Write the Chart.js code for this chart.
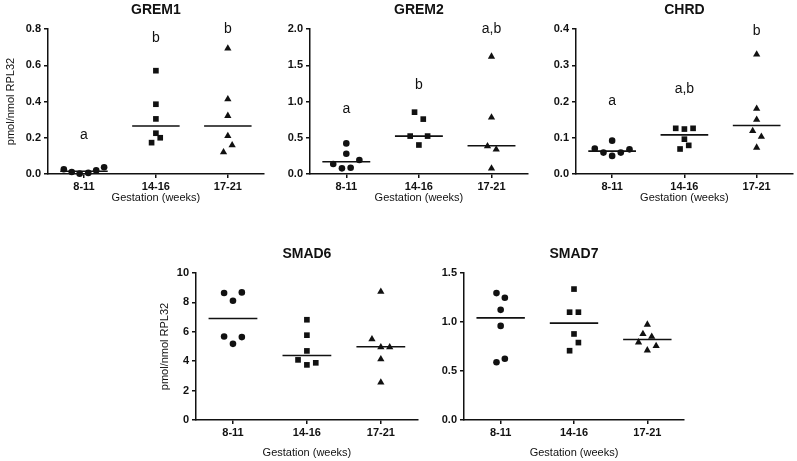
<!DOCTYPE html>
<html>
<head>
<meta charset="utf-8">
<script src="https://cdn.jsdelivr.net/npm/chart.js@4"></script>
<style>
  body { margin: 0; background: #fff; }
  #wrap { position: relative; width: 797px; height: 461px; overflow: hidden; }
  canvas { position: absolute; }
</style>
</head>
<body>
<div id="wrap">
  <canvas id="grem1" width="268" height="206" style="left:0px;top:0px"></canvas>
  <canvas id="grem2" width="264" height="206" style="left:268px;top:0px"></canvas>
  <canvas id="chrd" width="265" height="206" style="left:532px;top:0px"></canvas>
  <canvas id="smad6" width="282" height="225" style="left:140px;top:236px"></canvas>
  <canvas id="smad7" width="270" height="225" style="left:422px;top:236px"></canvas>
</div>
<script>
// groups on the x axis
var categories = ['8-11', '14-16', '17-21'];

// values per group (8-11, 14-16, 17-21) and the horizontal scatter of each point
var grem1Values = [[0.026, 0.011, 0.002, 0.006, 0.020, 0.037], [0.173, 0.200, 0.225, 0.304, 0.385, 0.570], [0.120, 0.159, 0.210, 0.321, 0.413, 0.693]];
var grem1Jitter = [[-0.28, -0.17, -0.06, 0.06, 0.17, 0.28], [-0.06, 0.06, 0, 0, 0, 0], [-0.06, 0.06, 0, 0, 0, 0]];
var grem1Medians = [0.015, 0.265, 0.265];
var grem1Letters = ['a', 'b', 'b'];
var grem1LetterY = [0.215, 0.75, 0.797];

var grem2Values = [[0.138, 0.078, 0.087, 0.193, 0.280, 0.422], [0.523, 0.523, 0.400, 0.853, 0.757], [1.620, 0.780, 0.385, 0.340, 0.078]];
var grem2Jitter = [[-0.18, -0.06, 0.06, 0.18, 0, 0], [-0.12, 0.12, 0, -0.06, 0.06], [0, 0, -0.055, 0.065, 0]];
var grem2Medians = [0.17, 0.523, 0.39];
var grem2Letters = ['a', 'b', 'a,b'];
var grem2LetterY = [0.9, 1.22, 2.0];

var chrdValues = [[0.070, 0.059, 0.050, 0.092, 0.059, 0.068], [0.126, 0.124, 0.126, 0.096, 0.079, 0.069], [0.330, 0.180, 0.150, 0.119, 0.103, 0.073]];
var chrdJitter = [[-0.24, -0.12, 0, 0, 0.12, 0.24], [-0.12, 0, 0.12, 0, 0.06, -0.06], [0, 0, 0, -0.055, 0.065, 0]];
var chrdMedians = [0.063, 0.108, 0.134];
var chrdLetters = ['a', 'a,b', 'b'];
var chrdLetterY = [0.2, 0.233, 0.394];

var smad6Values = [[8.64, 5.68, 8.68, 5.64, 8.11, 5.18], [6.82, 5.77, 4.70, 4.09, 3.75, 3.89], [8.73, 5.50, 4.95, 4.95, 4.14, 2.55]];
var smad6Jitter = [[-0.12, -0.12, 0.12, 0.12, 0, 0], [0, 0, 0, -0.12, 0, 0.12], [0, -0.12, 0, 0.12, 0, 0]];
var smad6Medians = [6.9, 4.39, 4.98];

var smad7Values = [[1.295, 1.248, 1.124, 0.960, 0.625, 0.590], [1.336, 1.100, 1.100, 0.878, 0.790, 0.707], [0.974, 0.878, 0.851, 0.793, 0.755, 0.711]];
var smad7Jitter = [[-0.057, 0.057, 0, 0, 0.057, -0.057], [0, -0.06, 0.06, 0, 0.06, -0.06], [0, -0.06, 0.06, -0.12, 0.12, 0]];
var smad7Medians = [1.042, 0.989, 0.822];

var ink = '#111';
var fontFamily = '"Liberation Sans", Arial, Helvetica, sans-serif';
Chart.defaults.font.family = fontFamily;
Chart.defaults.color = ink;

// panel title above the plot and the significance letters over each group
var panelText = {
    id: 'panelText',
    afterDraw: function (chart, args, opts) {
        var ctx = chart.ctx, area = chart.chartArea;
        var x = chart.scales.x, y = chart.scales.y;
        ctx.save();
        ctx.fillStyle = ink;
        ctx.textAlign = 'center';
        ctx.textBaseline = 'middle';
        ctx.font = 'bold 14px ' + fontFamily;
        ctx.fillText(opts.title, x.getPixelForValue(2), area.top - 19);
        if (opts.letters) {
            ctx.font = '14px ' + fontFamily;
            opts.letters.forEach(function (t, i) {
                ctx.fillText(t, x.getPixelForValue(i + 1), y.getPixelForValue(opts.letterY[i]));
            });
        }
        ctx.restore();
    }
};

var shapes = ['circle', 'rect', 'triangle'];
var radii = [3.3, 4, 4.2];

function makePanel(id, title, values, jitter, medians, yMax, yStep, decimals, letters, letterY, box) {
    var datasets = values.map(function (vals, g) {
        return {
            data: vals.map(function (v, k) { return { x: g + 1 + jitter[g][k], y: v }; }),
            pointStyle: shapes[g],
            pointRadius: radii[g],
            pointHoverRadius: radii[g],
            backgroundColor: ink,
            borderColor: ink,
            borderWidth: 0,
            clip: false
        };
    });

    // median bars, broken between groups
    var medianPts = [];
    medians.forEach(function (m, g) {
        medianPts.push({ x: g + 1 - 0.33, y: m }, { x: g + 1 + 0.33, y: m }, { x: g + 1.5, y: null });
    });
    datasets.push({
        data: medianPts,
        showLine: true,
        spanGaps: false,
        borderColor: ink,
        borderWidth: 1.6,
        pointRadius: 0,
        clip: false
    });

    var axisLine = { color: ink, width: 1.5 };
    var tickGrid = { drawOnChartArea: false, drawTicks: true, tickLength: 4, color: ink, lineWidth: 1.5 };

    return new Chart(document.getElementById(id), {
        type: 'scatter',
        data: { datasets: datasets },
        plugins: [panelText],
        options: {
            responsive: false,
            animation: false,
            events: [],
            layout: { padding: { top: box.top, right: box.right, bottom: 0, left: 0 } },
            plugins: {
                legend: { display: false },
                tooltip: { enabled: false },
                panelText: { title: title, letters: letters, letterY: letterY }
            },
            scales: {
                x: {
                    type: 'linear',
                    min: 0.5,
                    max: 3.5,
                    afterBuildTicks: function (s) {
                        s.ticks = [1, 2, 3].map(function (v) { return { value: v }; });
                    },
                    afterFit: function (s) { s.height = box.xHeight; },
                    ticks: {
                        callback: function (v) { return categories[v - 1]; },
                        font: { size: 11, weight: 'bold' },
                        color: ink,
                        padding: 2,
                        maxRotation: 0,
                        autoSkip: false
                    },
                    grid: tickGrid,
                    border: axisLine,
                    title: {
                        display: true,
                        text: 'Gestation (weeks)',
                        font: { size: 11 },
                        color: ink,
                        padding: { top: 0, bottom: 1 }
                    }
                },
                y: {
                    min: 0,
                    max: yMax,
                    afterFit: function (s) { s.width = box.yWidth; },
                    ticks: {
                        stepSize: yStep,
                        callback: function (v) { return Number(v).toFixed(decimals); },
                        font: { size: 11, weight: 'bold' },
                        color: ink,
                        padding: 3
                    },
                    grid: tickGrid,
                    border: axisLine,
                    title: {
                        display: box.yTitle,
                        text: 'pmol/nmol RPL32',
                        font: { size: 11 },
                        color: ink,
                        padding: { top: box.yTitlePad, bottom: 0 }
                    }
                }
            }
        }
    });
}

makePanel('grem1', 'GREM1', grem1Values, grem1Jitter, grem1Medians, 0.8, 0.2, 1, grem1Letters, grem1LetterY,
    { top: 29, right: 4, xHeight: 32, yWidth: 48, yTitle: true, yTitlePad: 4 });
makePanel('grem2', 'GREM2', grem2Values, grem2Jitter, grem2Medians, 2.0, 0.5, 1, grem2Letters, grem2LetterY,
    { top: 29, right: 2, xHeight: 32, yWidth: 42, yTitle: false, yTitlePad: 0 });
makePanel('chrd', 'CHRD', chrdValues, chrdJitter, chrdMedians, 0.4, 0.1, 1, chrdLetters, chrdLetterY,
    { top: 29, right: 1, xHeight: 32, yWidth: 44, yTitle: false, yTitlePad: 0 });
makePanel('smad6', 'SMAD6', smad6Values, smad6Jitter, smad6Medians, 10, 2, 0, null, null,
    { top: 37, right: 3, xHeight: 41, yWidth: 56, yTitle: true, yTitlePad: 18 });
makePanel('smad7', 'SMAD7', smad7Values, smad7Jitter, smad7Medians, 1.5, 0.5, 1, null, null,
    { top: 37, right: 8, xHeight: 41, yWidth: 42, yTitle: false, yTitlePad: 0 });
</script>
</body>
</html>
